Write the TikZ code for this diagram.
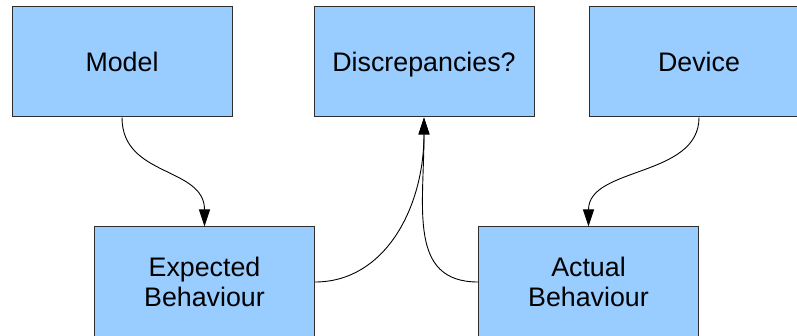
\documentclass[tikz,border=0pt]{standalone}
\usepackage{fontspec}
\setmainfont{Liberation Sans}
\usetikzlibrary{arrows.meta}
\definecolor{boxfill}{HTML}{99CCFF}
\definecolor{boxline}{HTML}{2E2E2E}
\begin{document}
\begin{tikzpicture}[x=1pt,y=-1pt,
  block/.style={rectangle, draw=boxline, fill=boxfill, line width=1pt,
    minimum width=220pt, minimum height=110pt, inner sep=0pt,
    align=center, font=\fontsize{26.8}{30}\selectfont},
  oneline/.style={block, text height=20pt, text depth=0pt},
  flow/.style={draw=black, line width=0.9pt,
    -{Triangle[length=17pt,width=11pt]}}]
  \useasboundingbox (0,0) rectangle (797,336);
  \begin{scope}
    \clip (0,0) rectangle (797,336);
    \node[oneline] (model) at (122,62) {Model};
    \node[oneline] (disc) at (424,62) {Discrepancies?};
    \node[oneline] (device) at (699,62) {Device};
    \node[block] (expected) at (204.5,282) {Expected\\Behaviour};
    \node[block] (actual) at (588.5,282) {Actual\\Behaviour};
  \end{scope}
  \draw[flow] (model.south) .. controls +(0,60) and +(0,-60) .. (expected.north);
  \draw[flow] (device.south) .. controls +(0,60) and +(0,-60) .. (actual.north);
  \draw[flow] (expected.east) .. controls +(70,0) and +(0,90) .. (disc.south);
  \draw[flow] (actual.west) .. controls +(-70,0) and +(0,90) .. (disc.south);
\end{tikzpicture}
\end{document}
